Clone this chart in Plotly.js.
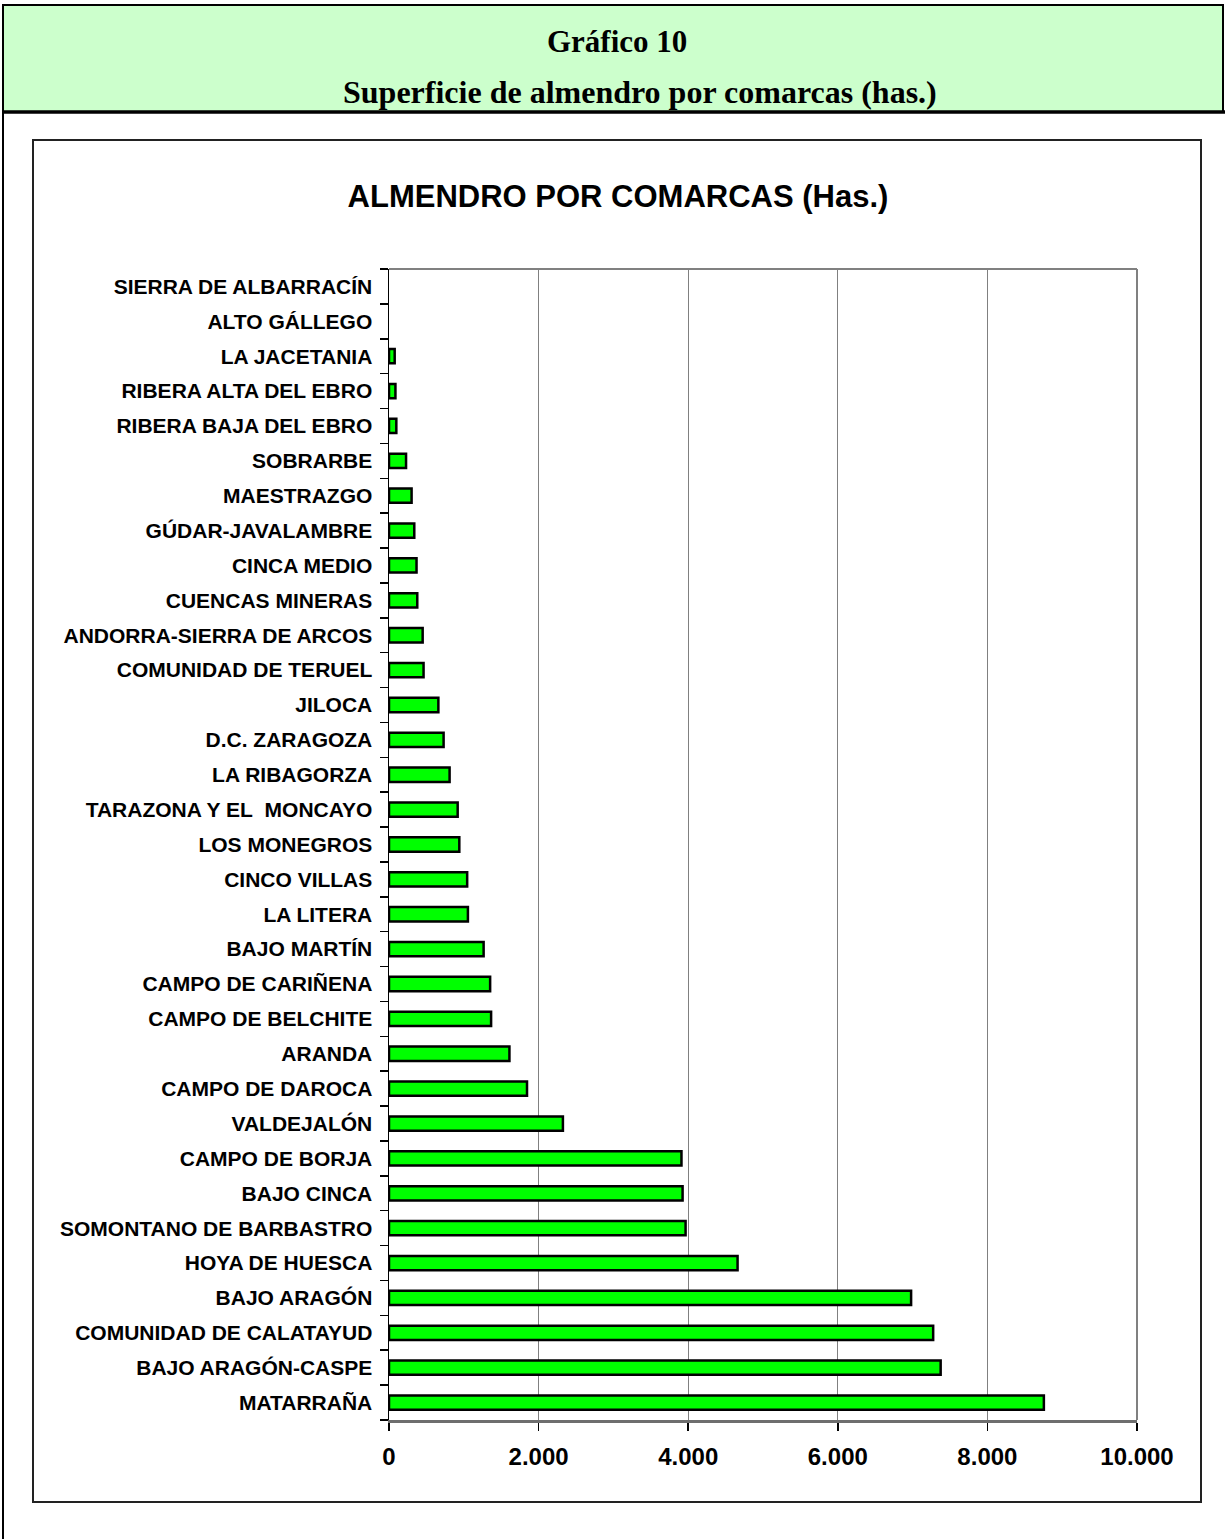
<!DOCTYPE html>
<html>
<head>
<meta charset="utf-8">
<script src="https://cdn.plot.ly/plotly-3.0.1.min.js"></script>
<style>
  html, body { margin: 0; padding: 0; background: #ffffff; }
  #chart { width: 1225px; height: 1539px; }
</style>
</head>
<body>
<div id="chart"></div>
<script>
// Data (bottom to top)
const comarcas = [
  "MATARRAÑA",
  "BAJO ARAGÓN-CASPE",
  "COMUNIDAD DE CALATAYUD",
  "BAJO ARAGÓN",
  "HOYA DE HUESCA",
  "SOMONTANO DE BARBASTRO",
  "BAJO CINCA",
  "CAMPO DE BORJA",
  "VALDEJALÓN",
  "CAMPO DE DAROCA",
  "ARANDA",
  "CAMPO DE BELCHITE",
  "CAMPO DE CARIÑENA",
  "BAJO MARTÍN",
  "LA LITERA",
  "CINCO VILLAS",
  "LOS MONEGROS",
  "TARAZONA Y EL\u00a0 MONCAYO",
  "LA RIBAGORZA",
  "D.C. ZARAGOZA",
  "JILOCA",
  "COMUNIDAD DE TERUEL",
  "ANDORRA-SIERRA DE ARCOS",
  "CUENCAS MINERAS",
  "CINCA MEDIO",
  "GÚDAR-JAVALAMBRE",
  "MAESTRAZGO",
  "SOBRARBE",
  "RIBERA BAJA DEL EBRO",
  "RIBERA ALTA DEL EBRO",
  "LA JACETANIA",
  "ALTO GÁLLEGO",
  "SIERRA DE ALBARRACÍN"
];
const hectareas = [
  8755, 7375, 7275, 6980, 4660, 3965, 3925, 3910,
  2325, 1845, 1610, 1365, 1352, 1265, 1055, 1045,
  940, 918, 810, 730, 660, 462, 450, 378,
  368, 338, 302, 228, 98, 86, 76, 0, 0
];
const xTickVals = [0, 2000, 4000, 6000, 8000, 10000];

const headerLine1 = "Gráfico 10";
const headerLine2 = "Superficie de almendro por comarcas (has.)";
const chartTitle = "ALMENDRO POR COMARCAS (Has.)";

// plot area in pixels
const W = 1225, H = 1539;
const PL = 389, PR = 1137, PT = 269, PB = 1420;
const px = x => (x - PL) / (PR - PL);
const py = y => (PB - y) / (PB - PT);

const trace = {
  type: "bar",
  orientation: "h",
  y: comarcas,
  x: hectareas,
  marker: {
    color: "#00ff00",
    line: { color: "#000000", width: hectareas.map(v => (v > 0 ? 2.5 : 0)) }
  },
  hoverinfo: "x+y"
};

const layout = {
  width: W,
  height: H,
  margin: { l: PL, r: W - PR, t: PT, b: H - PB, pad: 0 },
  paper_bgcolor: "#ffffff",
  plot_bgcolor: "#ffffff",
  separators: ",.",
  showlegend: false,
  bargap: 0.59,
  font: { family: "Liberation Sans, Arial, sans-serif", color: "#000000" },
  title: {
    text: "<b>" + chartTitle + "</b>",
    font: { family: "Liberation Sans, Arial, sans-serif", size: 31, color: "#000000" },
    xref: "container", yref: "container",
    x: 618 / W, y: 1 - 196 / H,
    xanchor: "center", yanchor: "middle"
  },
  xaxis: {
    range: [0, 10000],
    tickvals: xTickVals,
    tickformat: ",.0f",
    ticks: "outside",
    ticklen: 8,
    tickwidth: 1.5,
    tickcolor: "#000000",
    ticklabelstandoff: 6,
    tickfont: { family: "Liberation Sans, Arial, sans-serif", size: 24, color: "#000000", weight: "bold" },
    showgrid: true,
    gridcolor: "#808080",
    gridwidth: 1.3,
    zeroline: false,
    showline: true,
    linecolor: "#6e6e6e",
    linewidth: 2.5,
    mirror: false,
    fixedrange: true
  },
  yaxis: {
    type: "category",
    tickson: "boundaries",
    ticks: "outside",
    ticklen: 8,
    tickwidth: 1.5,
    tickcolor: "#000000",
    ticklabelstandoff: 11,
    tickfont: { family: "Liberation Sans, Arial, sans-serif", size: 21, color: "#000000", weight: "bold" },
    showgrid: false,
    zeroline: false,
    showline: true,
    linecolor: "#000000",
    linewidth: 1.5,
    automargin: false,
    fixedrange: true
  },
  shapes: [
    // green header band
    { type: "rect", xref: "paper", yref: "paper",
      x0: px(3), x1: px(1223), y0: py(5), y1: py(112),
      fillcolor: "#ccffcc", line: { color: "#000000", width: 2 }, layer: "below" },
    // thick line under header
    { type: "line", xref: "paper", yref: "paper",
      x0: px(3), x1: px(1225), y0: py(112), y1: py(112),
      line: { color: "#000000", width: 3.5 } },
    // left page border
    { type: "line", xref: "paper", yref: "paper",
      x0: px(3), x1: px(3), y0: py(112), y1: py(1539),
      line: { color: "#000000", width: 2 } },
    // chart box
    { type: "rect", xref: "paper", yref: "paper",
      x0: px(33), x1: px(1201), y0: py(140), y1: py(1502),
      line: { color: "#222222", width: 2 }, layer: "below" },
    // plot area top and right border
    { type: "line", xref: "paper", yref: "paper",
      x0: 0, x1: 1, y0: 1, y1: 1,
      line: { color: "#808080", width: 2 } },
    { type: "line", xref: "paper", yref: "paper",
      x0: 1, x1: 1, y0: 0, y1: 1,
      line: { color: "#808080", width: 2 } }
  ],
  annotations: [
    { xref: "paper", yref: "paper", x: px(617), y: py(42),
      text: "<b>" + headerLine1 + "</b>", showarrow: false,
      xanchor: "center", yanchor: "middle",
      font: { family: "Liberation Serif, Times New Roman, serif", size: 31, color: "#000000" } },
    { xref: "paper", yref: "paper", x: px(640), y: py(92),
      text: "<b>" + headerLine2 + "</b>", showarrow: false,
      xanchor: "center", yanchor: "middle",
      font: { family: "Liberation Serif, Times New Roman, serif", size: 32, color: "#000000" } }
  ]
};

Plotly.newPlot("chart", [trace], layout, { displayModeBar: false, staticPlot: true });
</script>
</body>
</html>
